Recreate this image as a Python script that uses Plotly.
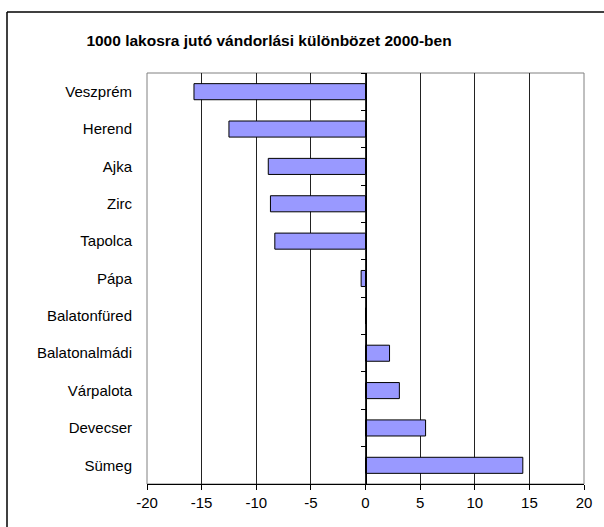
import plotly.graph_objects as go

cities = [
    "Veszprém",
    "Herend",
    "Ajka",
    "Zirc",
    "Tapolca",
    "Pápa",
    "Balatonfüred",
    "Balatonalmádi",
    "Várpalota",
    "Devecser",
    "Sümeg",
]
values = [-15.7, -12.5, -8.9, -8.7, -8.3, -0.4, 0.0, 2.2, 3.1, 5.5, 14.4]
x_ticks = [-20, -15, -10, -5, 0, 5, 10, 15, 20]

title = "1000 lakosra jutó vándorlási különbözet 2000-ben"
font = "Liberation Sans, Arial, sans-serif"

W, H = 604, 527
# plot area in page pixels: 147..584 x 73..484
ml, mr, mt, mb = 147, W - 584, 73, H - 484
pw, ph = W - ml - mr, H - mt - mb


def px_x(p):
    return (p - ml) / pw


def px_y(p):
    return (H - mb - p) / ph


fig = go.Figure()
fig.add_trace(
    go.Bar(
        x=values,
        y=cities,
        orientation="h",
        marker=dict(color="#9999FF", line=dict(color="black", width=1)),
        width=0.43,
        showlegend=False,
        hoverinfo="x+y",
    )
)
# invisible trace so the zero axis (ticks only) gets drawn
fig.add_trace(
    go.Scatter(
        x=[0] * len(cities),
        y=cities,
        yaxis="y2",
        mode="markers",
        marker=dict(opacity=0),
        showlegend=False,
        hoverinfo="skip",
    )
)

fig.update_layout(
    width=W,
    height=H,
    margin=dict(l=ml, r=mr, t=mt, b=mb),
    paper_bgcolor="white",
    plot_bgcolor="white",
    font=dict(family=font, size=15, color="black"),
    title=dict(
        text=f"<b>{title}</b>",
        x=269 / W,
        xanchor="center",
        xref="container",
        y=1 - 41 / H,
        yanchor="middle",
        yref="container",
        font=dict(family=font, size=15.5, color="black"),
    ),
    xaxis=dict(
        range=[-20, 20],
        tickvals=x_ticks,
        ticktext=[str(v) for v in x_ticks],
        ticks="outside",
        ticklen=5,
        tickcolor="black",
        showline=True,
        linecolor="black",
        linewidth=1,
        showgrid=True,
        gridcolor="#222222",
        gridwidth=1,
        zeroline=False,
        fixedrange=True,
    ),
    yaxis=dict(
        type="category",
        categoryorder="array",
        categoryarray=cities,
        range=[len(cities) - 0.5, -0.5],
        showline=False,
        showgrid=False,
        ticks="",
        ticklabelstandoff=14,
        fixedrange=True,
    ),
    yaxis2=dict(
        type="category",
        categoryorder="array",
        categoryarray=cities,
        range=[len(cities) - 0.5, -0.5],
        overlaying="y",
        anchor="free",
        position=0.5,
        side="left",
        showline=True,
        linecolor="black",
        linewidth=1,
        ticks="outside",
        tickson="boundaries",
        ticklen=5,
        tickcolor="black",
        showticklabels=False,
        showgrid=False,
        fixedrange=True,
    ),
    bargap=0.57,
    shapes=[
        # grey frame of the plot area
        dict(
            type="rect",
            xref="paper",
            yref="paper",
            x0=0,
            x1=1,
            y0=0,
            y1=1,
            line=dict(color="#808080", width=1),
            layer="below",
        ),
        # outer chart border: only the top and left edges are inside the window
        dict(
            type="line",
            xref="paper",
            yref="paper",
            x0=px_x(7),
            x1=px_x(700),
            y0=px_y(12),
            y1=px_y(12),
            line=dict(color="black", width=1.5),
            layer="below",
        ),
        dict(
            type="line",
            xref="paper",
            yref="paper",
            x0=px_x(7),
            x1=px_x(7),
            y0=px_y(12),
            y1=px_y(600),
            line=dict(color="black", width=1.5),
            layer="below",
        ),
    ],
)

# drop the default 8px body margin so the figure sits at the window corner
fig.write_html(
    "out.html",
    config={"displayModeBar": False},
    post_script="document.body.style.margin = '0'; document.body.style.overflow = 'hidden';",
)
